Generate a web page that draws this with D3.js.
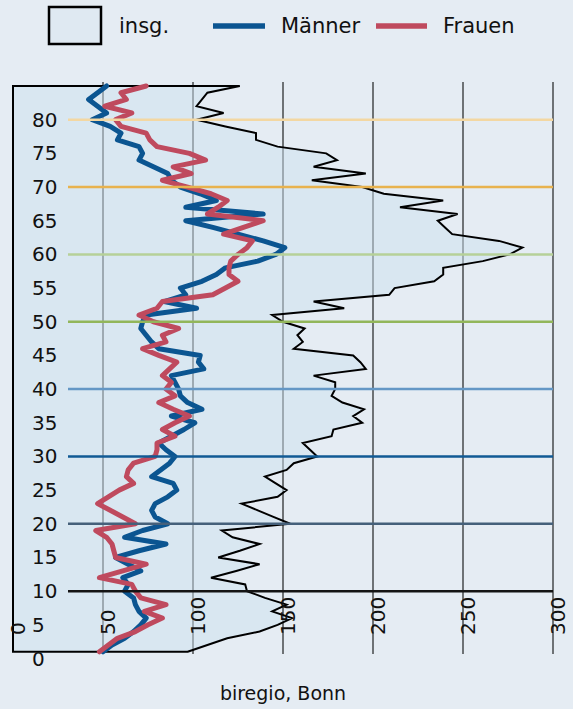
<!DOCTYPE html>
<html>
<head>
<meta charset="utf-8">
<script src="https://cdn.jsdelivr.net/npm/d3@7"></script>
<style>
  html, body { margin: 0; padding: 0; background: #e5ecf3; }
  svg { display: block; }
</style>
</head>
<body>
<div id="chart"></div>
<script>
// ---- data ----
const ages = [1,2,3,4,5,6,7,8,9,10,11,12,13,14,15,16,17,18,19,20,21,22,23,24,25,26,27,28,29,30,
  31,32,33,34,35,36,37,38,39,40,41,42,43,44,45,46,47,48,49,50,51,52,53,54,55,56,57,58,59,60,
  61,62,63,64,65,66,67,68,69,70,71,72,73,74,75,76,77,78,79,80,81,82,83,84,85];

const insg = [97,108,119,137,147,155,144,152,140,130,
  129,110,124,137,114,126,137,122,116,154,
  145,136,127,147,152,146,140,152,156,169,
  165,161,177,178,194,189,195,183,177,179,
  179,167,196,193,189,156,161,158,162,150,
  144,184,167,209,212,234,239,239,261,276,
  283,270,244,240,236,247,215,239,206,194,
  166,196,167,180,174,147,135,135,118,102,
  117,102,105,108,126];

const maenner = [50,55,62,67,71,74,70,68,67,62,
  64,61,71,64,57,70,85,62,72,86,
  79,77,79,86,91,89,77,82,87,90,
  85,81,88,95,101,88,105,97,93,92,
  90,88,106,103,104,81,77,74,71,72,
  74,102,84,96,93,105,113,118,136,146,
  151,139,125,111,96,139,96,113,104,93,
  88,86,78,70,72,70,58,60,54,44,
  52,47,42,47,52];

const frauen = [48,53,58,68,75,83,73,85,71,68,
  66,48,61,74,57,56,55,52,46,68,
  61,54,47,53,59,67,63,64,67,79,
  80,80,90,83,90,98,89,81,90,85,
  88,83,87,91,81,72,85,83,92,78,
  70,80,83,111,118,125,120,120,121,125,
  130,133,117,128,139,108,114,119,110,97,
  83,99,89,107,98,80,76,74,60,57,
  66,51,63,60,74];

const yTicks = [0,5,10,15,20,25,30,35,40,45,50,55,60,65,70,75,80];
const xTicks = [0,50,100,150,200,250,300];
const refLines = [
  {age: 10, color: "#141414"},
  {age: 20, color: "#45607a"},
  {age: 30, color: "#105a94"},
  {age: 40, color: "#6497c5"},
  {age: 50, color: "#92b65a"},
  {age: 60, color: "#b6d198"},
  {age: 70, color: "#e8b24e"},
  {age: 80, color: "#f3d7a2"}
];
const legendLabels = ["insg.", "Männer", "Frauen"];
const sourceText = "biregio, Bonn";

// ---- layout ----
const W = 573, H = 709;
const BLUE = "#0b5591", RED = "#bf4a5e";
const FONT = "'DejaVu Sans', sans-serif";

const svg = d3.select("#chart").append("svg")
  .attr("width", W).attr("height", H);

svg.append("rect").attr("width", W).attr("height", H).attr("fill", "#e5ecf3");

const x = d3.scaleLinear().domain([0, 300]).range([13, 553]);
const y = d3.scaleLinear().domain([0, 85]).range([658.5, 86]);

// vertical gridlines
svg.append("g").selectAll("line")
  .data(xTicks.filter(d => d > 0))
  .join("line")
  .attr("x1", d => x(d)).attr("x2", d => x(d))
  .attr("y1", 82).attr("y2", 654)
  .attr("stroke", "#6e7275").attr("stroke-width", 2);

// area (insg.)
const area = d3.area()
  .y(d => y(d.age))
  .x0(x(0))
  .x1(d => x(d.v))
  .curve(d3.curveLinear);
const insgData = ages.map((a, i) => ({age: a, v: insg[i]}));
svg.append("path")
  .datum(insgData)
  .attr("d", area)
  .attr("fill", "rgba(205,225,240,0.5)")
  .attr("stroke", "#000")
  .attr("stroke-width", 2)
  .attr("stroke-linejoin", "miter");

// lines
const line = d3.line().y(d => y(d.age)).x(d => x(d.v));
svg.append("path")
  .datum(ages.map((a, i) => ({age: a, v: maenner[i]})))
  .attr("d", line)
  .attr("fill", "none").attr("stroke", BLUE)
  .attr("stroke-width", 5).attr("stroke-linejoin", "round").attr("stroke-linecap", "round");
svg.append("path")
  .datum(ages.map((a, i) => ({age: a, v: frauen[i]})))
  .attr("d", line)
  .attr("fill", "none").attr("stroke", RED)
  .attr("stroke-width", 5).attr("stroke-linejoin", "round").attr("stroke-linecap", "round");

// reference lines
svg.append("g").selectAll("line")
  .data(refLines)
  .join("line")
  .attr("x1", 68).attr("x2", x(300))
  .attr("y1", d => y(d.age)).attr("y2", d => y(d.age))
  .attr("stroke", d => d.color).attr("stroke-width", 2.5);

// y tick labels
svg.append("g").selectAll("text")
  .data(yTicks)
  .join("text")
  .attr("x", 32).attr("y", d => y(d))
  .attr("dominant-baseline", "central")
  .attr("font-family", FONT).attr("font-size", 20).attr("fill", "#111")
  .text(d => d);

// x tick labels (rotated)
svg.append("g").selectAll("text")
  .data(xTicks)
  .join("text")
  .attr("transform", d => `translate(${x(d) + 5},635) rotate(-90)`)
  .attr("text-anchor", "start")
  .attr("dominant-baseline", "central")
  .attr("font-family", FONT).attr("font-size", 20).attr("fill", "#111")
  .text(d => d);

// legend
const lg = svg.append("g");
lg.append("rect").attr("x", 49).attr("y", 7).attr("width", 52).attr("height", 37)
  .attr("fill", "#dfe9f2").attr("stroke", "#000").attr("stroke-width", 2.5);
lg.append("text").attr("x", 119).attr("y", 26).attr("dominant-baseline", "central")
  .attr("font-family", FONT).attr("font-size", 21).attr("fill", "#111").text(legendLabels[0]);
lg.append("line").attr("x1", 213).attr("x2", 265).attr("y1", 26).attr("y2", 26)
  .attr("stroke", BLUE).attr("stroke-width", 5.5);
lg.append("text").attr("x", 281).attr("y", 26).attr("dominant-baseline", "central")
  .attr("font-family", FONT).attr("font-size", 21).attr("fill", "#111").text(legendLabels[1]);
lg.append("line").attr("x1", 376).attr("x2", 427).attr("y1", 26).attr("y2", 26)
  .attr("stroke", RED).attr("stroke-width", 5.5);
lg.append("text").attr("x", 443).attr("y", 26).attr("dominant-baseline", "central")
  .attr("font-family", FONT).attr("font-size", 21).attr("fill", "#111").text(legendLabels[2]);

// source
svg.append("text").attr("x", 283).attr("y", 700)
  .attr("text-anchor", "middle")
  .attr("font-family", FONT).attr("font-size", 19).attr("fill", "#111")
  .text(sourceText);
</script>
</body>
</html>
